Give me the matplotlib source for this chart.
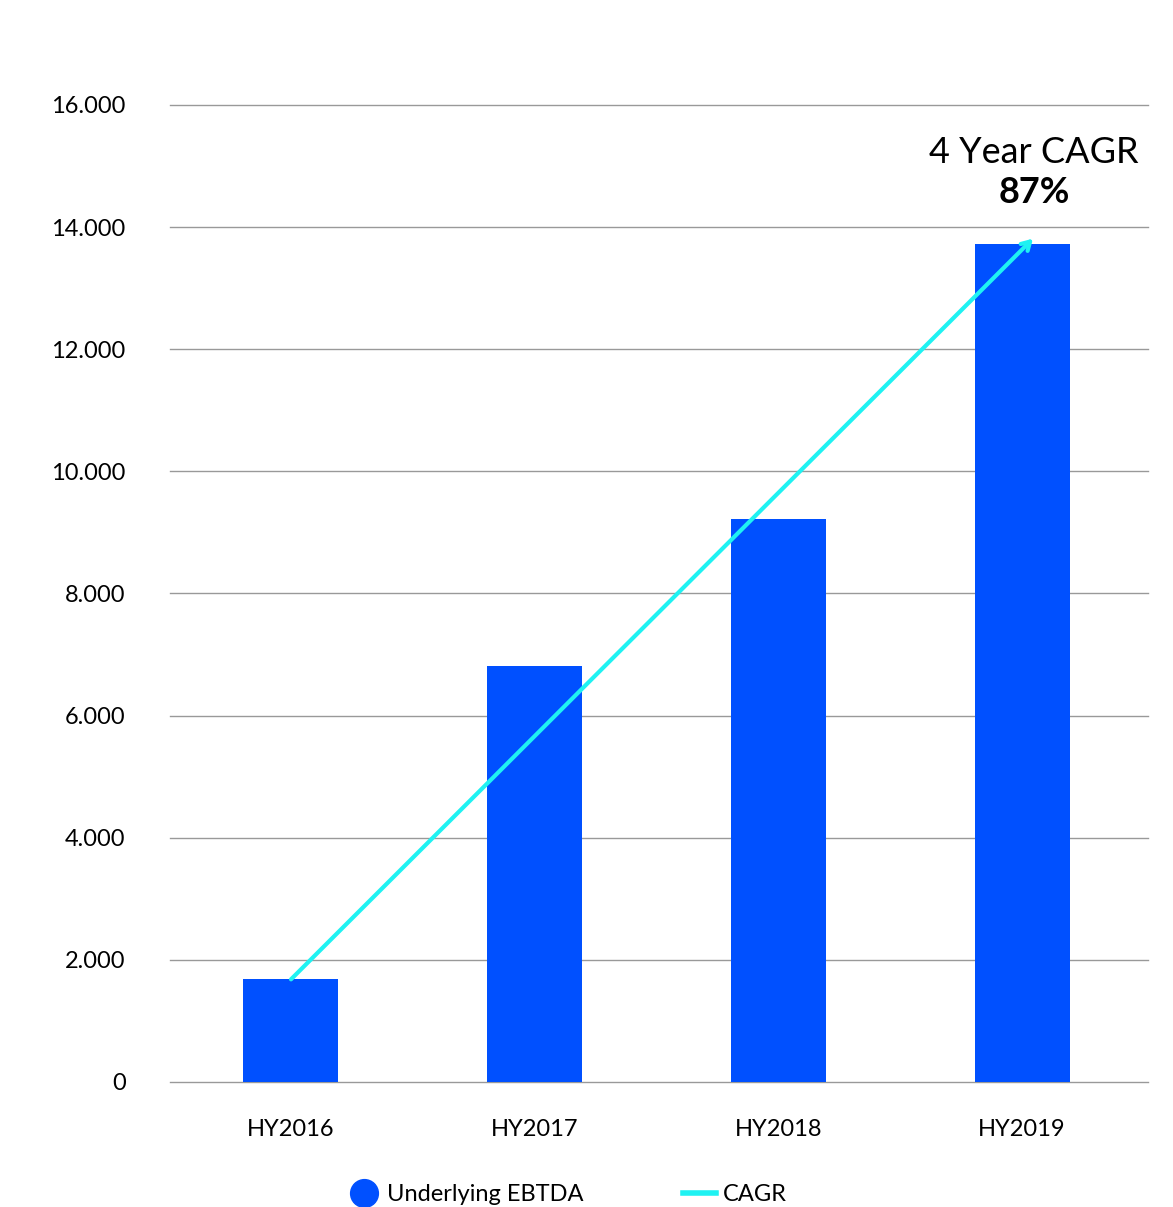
import matplotlib.pyplot as plt
from matplotlib.lines import Line2D
from matplotlib.ticker import FuncFormatter

plt.rcParams['font.family'] = ['Lato', 'DejaVu Sans']

categories = ["HY2016", "HY2017", "HY2018", "HY2019"]
ebitda = [1690, 6810, 9220, 13720]
yticks = [0, 2000, 4000, 6000, 8000, 10000, 12000, 14000, 16000]

# CAGR arrow, start and end in data units
cagr_x = [0.0, 3.045]
cagr_y = [1680, 13810]
cagr_label = "4 Year CAGR"
cagr_value = "87%"

BAR_COLOR = "#0050ff"
LINE_COLOR = "#1ff2f2"

fig = plt.figure(figsize=(11.73, 12.07), dpi=100)
ax = fig.add_axes([0.1449, 0.1036, 0.8338, 0.8095])

x = range(len(categories))
ax.bar(x, ebitda, width=0.39, color=BAR_COLOR, zorder=2)

ax.annotate("", xy=(cagr_x[1], cagr_y[1]), xytext=(cagr_x[0], cagr_y[0]),
            arrowprops=dict(arrowstyle="->,head_length=0.6,head_width=0.35",
                            color=LINE_COLOR, lw=3, capstyle="round",
                            shrinkA=0, shrinkB=0),
            zorder=3)

ax.text(3.05, 15220, cagr_label, ha="center", va="center", fontsize=26)
ax.text(3.05, 14560, cagr_value, ha="center", va="center", fontsize=26,
        fontweight="bold")

ax.set_xlim(-0.4966, 3.517)
ax.set_ylim(0, 16000)
ax.set_yticks(yticks)
ax.yaxis.set_major_formatter(FuncFormatter(lambda v, p: f"{int(v):,}".replace(",", ".")))
ax.set_xticks(list(x))
ax.set_xticklabels(categories)
ax.grid(axis="y", color="#999999", linewidth=1, zorder=0)
for gl in ax.get_ygridlines():
    gl.set_clip_on(False)
ax.set_axisbelow(True)
for s in ax.spines.values():
    s.set_visible(False)
ax.tick_params(axis="y", length=0, pad=32, labelsize=17)
ax.tick_params(axis="x", length=0, pad=27, labelsize=17)

handles = [
    Line2D([], [], marker="o", linestyle="none", markersize=20,
           markerfacecolor=BAR_COLOR, markeredgecolor=BAR_COLOR),
    Line2D([], [], color=LINE_COLOR, linewidth=4),
]
fig.legend(handles, ["Underlying EBTDA", "CAGR"], loc="center",
           bbox_to_anchor=(0.4835, 0.0105), ncol=2, frameon=False,
           fontsize=17, handlelength=1.4, handletextpad=0.3, columnspacing=4.2)

fig.savefig("out.png", dpi=100)
